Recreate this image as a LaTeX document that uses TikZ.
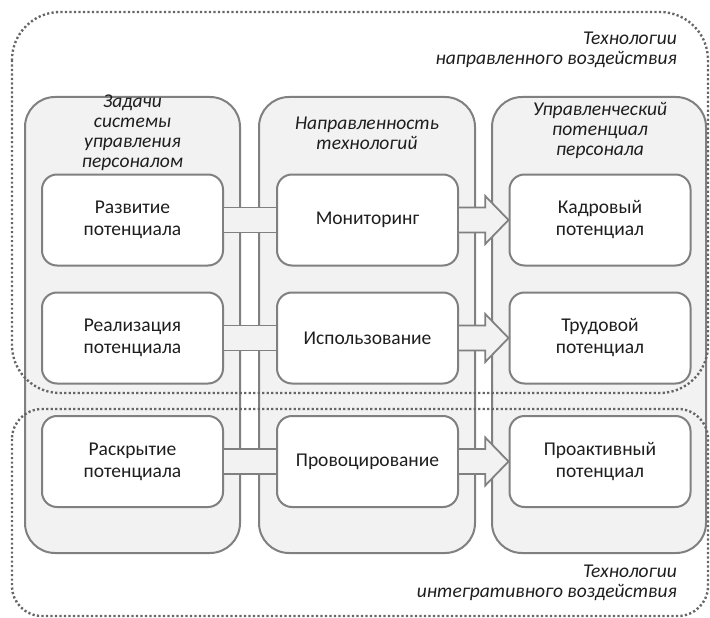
\documentclass[tikz,border=0pt]{standalone}
\usepackage{fontspec}
\setmainfont{Carlito}
\usetikzlibrary{calc}
\definecolor{panelfill}{HTML}{F2F2F2}
\definecolor{edgegray}{HTML}{808080}
\definecolor{dotgray}{HTML}{666666}
\definecolor{inkgray}{HTML}{1E1E1E}

\begin{document}
\begin{tikzpicture}[x=1pt,y=-1pt,
  panel/.style={draw=edgegray, fill=panelfill, line width=2pt, rounded corners=30pt,
    minimum height=456pt, inner sep=0pt},
  taskbox/.style={draw=edgegray, fill=white, line width=2pt, rounded corners=15pt,
    minimum width=181pt, minimum height=91pt, inner sep=0pt, align=center,
    text=inkgray, font=\fontsize{19.5}{22}\selectfont},
  headtext/.style={align=center, text=inkgray, inner sep=0pt,
    font=\fontsize{19.5}{20}\selectfont\itshape},
  zonetext/.style={align=right, anchor=east, text=inkgray, inner sep=0pt,
    font=\fontsize{19.5}{20}\selectfont\itshape},
  zone/.style={draw=dotgray, line width=2.4pt, dash pattern=on 2.2pt off 2.3pt, line cap=butt},
  linkfill/.style={fill=panelfill},
  linkedge/.style={draw=edgegray, line width=1.8pt}
]
\useasboundingbox (0,0) rectangle (710,618);

% three column panels
\node[panel, minimum width=215pt] (p1) at (132.5,325) {};
\node[panel, minimum width=216pt] (p2) at (367,325) {};
\node[panel, minimum width=214pt] (p3) at (599,325) {};

% column headings
\node[headtext] (h1) at (132.5,133) {Задачи\\системы\\управления\\персоналом};
\node[headtext] (h2) at (367,133) {Направленность\\технологий};
\node[headtext] (h3) at (600,130) {Управленческий\\потенциал\\персонала};

% boxes: tasks
\node[taskbox] (a1) at (132.5,220) {Развитие\\потенциала};
\node[taskbox] (a2) at (132.5,338) {Реализация\\потенциала};
\node[taskbox] (a3) at (132.5,461.5) {Раскрытие\\потенциала};
% boxes: directions
\node[taskbox] (b1) at (367.5,220) {Мониторинг};
\node[taskbox] (b2) at (367.5,338) {Использование};
\node[taskbox] (b3) at (367.5,461.5) {Провоцирование};
% boxes: potential
\node[taskbox] (c1) at (600,220) {Кадровый\\потенциал};
\node[taskbox] (c2) at (600,338) {Трудовой\\потенциал};
\node[taskbox] (c3) at (600,461.5) {Проактивный\\потенциал};

% plain bands from tasks to directions
\foreach \r in {1,2,3}{
  \fill[linkfill] ($(a\r.east)+(0,-12.5)$) rectangle ($(b\r.west)+(0,12.5)$);
  \draw[linkedge] ($(a\r.east)+(0,-12.5)$) -- ($(b\r.west)+(0,-12.5)$);
  \draw[linkedge] ($(a\r.east)+(0,12.5)$) -- ($(b\r.west)+(0,12.5)$);
}

% block arrows from directions to potential
\foreach \r in {1,2,3}{
  \fill[linkfill] let \p1=(b\r.east), \p2=(c\r.west) in
    (\x1,\y1+12.5pt) -- ({(\x1+\x2)/2+1.5pt},\y1+12.5pt) -- ({(\x1+\x2)/2+1.5pt},\y1+24pt)
    -- (\x2,\y2) -- ({(\x1+\x2)/2+1.5pt},\y1-24pt) -- ({(\x1+\x2)/2+1.5pt},\y1-12.5pt)
    -- (\x1,\y1-12.5pt) -- cycle;
  \draw[linkedge, line join=miter] let \p1=(b\r.east), \p2=(c\r.west) in
    (\x1,\y1+12.5pt) -- ({(\x1+\x2)/2+1.5pt},\y1+12.5pt) -- ({(\x1+\x2)/2+1.5pt},\y1+24pt)
    -- (\x2,\y2) -- ({(\x1+\x2)/2+1.5pt},\y1-24pt) -- ({(\x1+\x2)/2+1.5pt},\y1-12.5pt)
    -- (\x1,\y1-12.5pt);
}

% dotted technology zones
\draw[zone, rounded corners=48pt] (12,12) rectangle (708,393);
\draw[zone, rounded corners=30pt] (12,409) rectangle (708,616);

\node[zonetext] (z1) at (677,50) {Технологии\\направленного воздействия};
\node[zonetext] (z2) at (677,582.5) {Технологии\\интегративного воздействия};
\end{tikzpicture}
\end{document}
